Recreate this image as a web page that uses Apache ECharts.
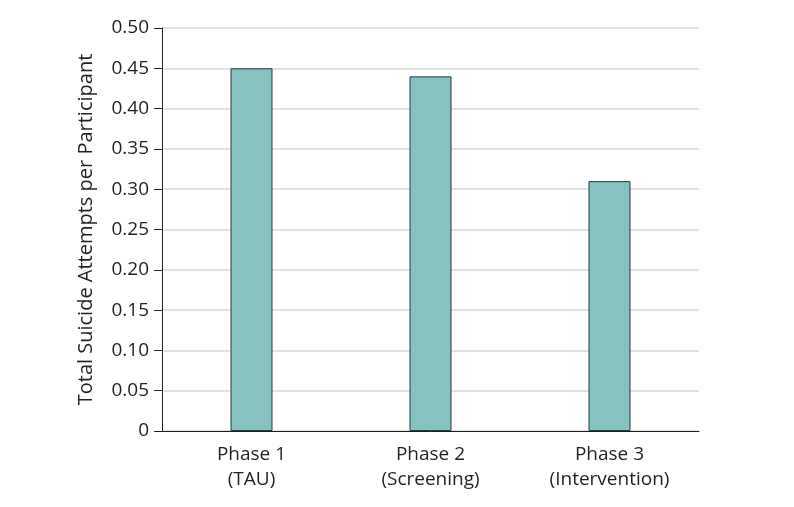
<!DOCTYPE html>
<html>
<head>
<meta charset="utf-8">
<script src="https://cdn.jsdelivr.net/npm/echarts@6/dist/echarts.min.js"></script>
<style>
  html, body { margin: 0; padding: 0; background: #fff; }
  #chart { width: 794px; height: 507px; }
</style>
</head>
<body>
<div id="chart"></div>
<script>
const categories = ['Phase 1\n(TAU)', 'Phase 2\n(Screening)', 'Phase 3\n(Intervention)'];
const attempts = [0.45, 0.44, 0.31];
const yTickLabels = ['0', '0.05', '0.10', '0.15', '0.20', '0.25', '0.30', '0.35', '0.40', '0.45', '0.50'];

const font = '"Open Sans", "DejaVu Sans", sans-serif';
const ink = '#231f20';

const chart = echarts.init(document.getElementById('chart'));
chart.setOption({
  animation: false,
  grid: { left: 162, right: 95, top: 28, bottom: 76 },
  xAxis: {
    type: 'category',
    data: categories,
    axisLine: { lineStyle: { color: ink, width: 1 } },
    axisTick: { show: false },
    axisLabel: { color: ink, fontFamily: font, fontSize: 19, lineHeight: 25, margin: 11 }
  },
  yAxis: {
    type: 'value',
    min: 0,
    max: 0.5,
    interval: 0.05,
    name: 'Total Suicide Attempts per Participant',
    nameLocation: 'middle',
    nameGap: 66,
    nameTextStyle: { color: ink, fontFamily: font, fontSize: 20 },
    axisLine: { show: true, lineStyle: { color: ink, width: 1 } },
    axisTick: { show: true, length: 8, lineStyle: { color: ink } },
    axisLabel: {
      color: ink, fontFamily: font, fontSize: 19, margin: 13,
      formatter: (v) => yTickLabels[Math.round(v / 0.05)]
    },
    splitLine: { lineStyle: { color: '#d9d9d9', width: 1.5 } }
  },
  series: [{
    type: 'bar',
    data: attempts,
    barWidth: 42,
    itemStyle: { color: '#86c2c0', borderColor: '#1f3a3a', borderWidth: 1 }
  }]
});
</script>
</body>
</html>
